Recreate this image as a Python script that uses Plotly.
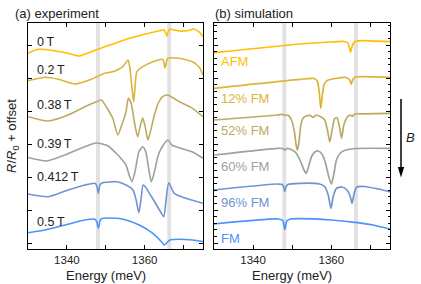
import plotly.graph_objects as go

W, H = 421, 284
FONT = "Liberation Sans, Arial, sans-serif"

# ---------------- panel (a): experiment ----------------
e_0T = [1330, 1332.6, 1334.5, 1336.9, 1340.3, 1343.3, 1346.3, 1349.7, 1352.3, 1356.1, 1360.3, 1363.8,
        1365.0, 1365.4, 1365.7, 1366.0, 1366.5, 1368.9, 1371.0, 1372.7, 1374.2, 1375]
y_0T = [189.7, 193.7, 193.5, 192.3, 189.7, 187, 191.3, 196.3, 199.5, 204.7, 209, 212.3,
        213, 210, 207, 211, 213.7, 212, 212.3, 214, 210.3, 206.3]

e_02T = [1330, 1334.4, 1337.8, 1342.1, 1346.3, 1349.7, 1351.8, 1354.4, 1355.7, 1356.2, 1356.6, 1357.0,
         1357.2, 1357.5, 1358.0, 1359.5, 1362.1, 1364.6, 1365.0, 1365.2, 1365.5, 1365.9, 1368.9, 1372.3, 1374.0, 1375]
y_02T = [162.3, 165.7, 163.7, 159, 163.7, 169.7, 171.3, 176.3, 183, 175, 160, 146,
         141.3, 155, 171.3, 176.3, 181.3, 183.7, 180, 174.7, 179, 184.7, 184.7, 181.3, 176, 168]

e_038T = [1330, 1335.2, 1340.3, 1344.6, 1347.6, 1348.9, 1350.3, 1351.8, 1353.1, 1354.2, 1355.2, 1355.8,
          1356.5, 1357.5, 1358.2, 1358.8, 1359.5, 1360.2, 1360.8, 1361.4, 1362.5, 1363.5, 1364.6, 1365.9,
          1368.9, 1372.3, 1375]
y_038T = [126.3, 122, 128, 136.3, 141.3, 143, 135, 124.7, 108, 119, 131.3, 144.7,
          140, 118, 106, 116, 125, 115, 103, 110, 128, 140, 146.3, 148,
          141.3, 134.7, 126.3]

e_039T = [1330, 1334.8, 1339.5, 1344.6, 1347.6, 1350.6, 1353.1, 1355.2, 1356.0, 1356.7, 1357.5, 1358.5,
          1359.5, 1360.3, 1361.0, 1361.7, 1362.5, 1363.5, 1364.8, 1366.0, 1367.0, 1369.0, 1372.3, 1375]
y_039T = [85.5, 82, 88, 96.3, 100, 97, 88, 78, 68, 61.3, 71, 91,
          96.3, 91, 75, 61.3, 71, 88, 98, 103, 98, 95, 91, 84.7]

e_0412T = [1330, 1335.2, 1340.3, 1344.6, 1347.2, 1347.7, 1348.1, 1348.5, 1349.0, 1352.8, 1355.2, 1357.0,
           1357.8, 1358.5, 1359.1, 1359.6, 1360.2, 1361.2, 1362.6, 1364.1, 1364.9, 1365.5, 1366.2, 1367.6,
           1370.6, 1375]
y_0412T = [49, 46.3, 53, 58, 59.7, 57, 49.7, 58, 60, 61.3, 58, 53,
           43, 30.3, 45, 58, 56, 49.7, 41, 31, 26.3, 43, 60.3, 49.7,
           44.7, 39.7]

e_05T = [1330, 1334.4, 1339.5, 1344.6, 1347.2, 1347.7, 1348.1, 1348.5, 1349.0, 1352.8, 1355.2, 1358.6,
         1362.1, 1364.6, 1365.0, 1366.5, 1368.9, 1372.3, 1375]
y_05T = [10.3, 13, 18, 23, 23.7, 21, 14.7, 22, 24.5, 24.7, 23, 18,
         9.7, 0, -2, 3, 3.7, 3, 1.5]

# ---------------- panel (b): simulation ----------------
e_AFM = [1330, 1352, 1360, 1363.3, 1364.2, 1364.6, 1364.9, 1365.2, 1365.6, 1366.3, 1368, 1375]
y_AFM = [190.3, 199, 201, 201.5, 200, 196, 190.7, 195, 199.5, 201.8, 202.3, 201.3]

e_12FM = [1330, 1352, 1355.5, 1356.4, 1356.9, 1357.3, 1357.7, 1358.2, 1359.0, 1361, 1363.8, 1364.7,
          1365.1, 1365.5, 1366.2, 1368, 1375]
y_12FM = [154.7, 163.7, 164.5, 162, 151, 134.7, 148, 159, 162.5, 164.5, 165.5, 163,
          158.7, 163.5, 166, 166.3, 165.7]

e_52FM = [1330, 1346.3, 1347.6, 1348.1, 1348.6, 1349.2, 1350.0, 1350.6, 1351.0, 1351.3, 1351.7, 1352.2,
          1352.8, 1353.6, 1354.6, 1355.3, 1356.0, 1357.2, 1358.3, 1359.0, 1359.6, 1360.2, 1360.8, 1361.4,
          1362.0, 1362.6, 1363.2, 1363.9, 1364.8, 1365.3, 1366.0, 1368, 1375]
y_52FM = [123, 128, 128.7, 127.5, 128, 127, 121, 110, 98, 93, 100, 118,
          125, 127, 127.5, 125.5, 127.7, 126.5, 123, 113, 101, 113, 124, 125.5,
          118, 104.7, 118, 125, 128, 126.5, 129, 129.2, 129.7]

e_60FM = [1330, 1346.3, 1347.6, 1348.1, 1348.6, 1350.0, 1351.0, 1352.2, 1353.0, 1353.6, 1354.3, 1355.0,
          1355.8, 1356.6, 1357.6, 1358.5, 1359.3, 1360.0, 1360.6, 1361.3, 1362.3, 1363.7, 1366.0, 1375]
y_60FM = [88, 94.7, 94.5, 93, 94.5, 93, 90, 81, 73, 69.7, 78, 87,
          91, 92, 89, 80, 67, 59, 68, 83, 90, 93, 94.5, 94.7]

e_96FM = [1330, 1346.3, 1347.5, 1347.9, 1348.1, 1348.4, 1348.9, 1352.0, 1357.0, 1358.3, 1359.2, 1359.9,
          1360.5, 1361.3, 1362.7, 1364.0, 1364.8, 1365.3, 1365.8, 1366.5, 1368.5, 1372, 1375]
y_96FM = [53, 59, 58.5, 55, 51.3, 56, 58.5, 59.7, 59, 56.5, 48, 34.7,
          47, 54.7, 56, 53, 47, 39.7, 49, 56, 56.5, 54, 51.3]

e_FM = [1330, 1346.3, 1347.6, 1348.1, 1348.6, 1349.5, 1352, 1360, 1366, 1370, 1375]
y_FM = [19, 24, 22.5, 13.5, 22, 24, 24.4, 23, 20.7, 18.5, 14]

colors = ["#FFBE00", "#DDB436", "#BDAA62", "#9AA598", "#6E95D2", "#4B92FA"]
exp_labels = ["0\u2009T", "0.2\u2009T", "0.38\u2009T", "0.39\u2009T", "0.412\u2009T", "0.5\u2009T"]
exp_label_y = [201.3, 173, 138, 98.7, 65.7, 21.3]
sim_labels = ["AFM", "12% FM", "52% FM", "60% FM", "96% FM", "FM"]
sim_label_y = [181.3, 144.7, 113, 76.3, 40.3, 4.7]
bands = [1348.0, 1366.3]

exp_e = [e_0T, e_02T, e_038T, e_039T, e_0412T, e_05T]
exp_y = [y_0T, y_02T, y_038T, y_039T, y_0412T, y_05T]
sim_e = [e_AFM, e_12FM, e_52FM, e_60FM, e_96FM, e_FM]
sim_y = [y_AFM, y_12FM, y_52FM, y_60FM, y_96FM, y_FM]

fig = go.Figure()
for e, y, c in zip(exp_e, exp_y, colors):
    fig.add_trace(go.Scatter(x=e, y=y, mode="lines", line=dict(color=c, width=1.6, shape="spline", smoothing=0.6),
                             xaxis="x", yaxis="y", showlegend=False, hoverinfo="skip"))
for e, y, c in zip(sim_e, sim_y, colors):
    fig.add_trace(go.Scatter(x=e, y=y, mode="lines", line=dict(color=c, width=1.7, shape="spline", smoothing=0.6),
                             xaxis="x2", yaxis="y2", showlegend=False, hoverinfo="skip"))

shapes = []
for xr, yr in (("x", "y domain"), ("x2", "y2 domain")):
    for b in bands:
        shapes.append(dict(type="rect", xref=xr, yref=yr, x0=b - 0.5, x1=b + 0.5, y0=0, y1=1,
                           fillcolor="#E2E2E2", line=dict(width=0), layer="below"))
# field arrow
shapes.append(dict(type="line", xref="paper", yref="paper", x0=401 / W, x1=401 / W,
                   y0=1 - 99 / H, y1=1 - 168 / H, line=dict(color="black", width=1.5)))
shapes.append(dict(type="path", xref="paper", yref="paper",
                   path=f"M {397.8 / W} {1 - 167 / H} L {404.2 / W} {1 - 167 / H} L {401 / W} {1 - 177.5 / H} Z",
                   fillcolor="black", line=dict(width=0)))

ann = []
for t, y in zip(exp_labels, exp_label_y):
    ann.append(dict(x=1331.8, y=y, xref="x", yref="y", text=t, showarrow=False, xanchor="left",
                    yanchor="middle", font=dict(size=12.5, color="#222222", family=FONT)))
for t, y, c in zip(sim_labels, sim_label_y, colors):
    ann.append(dict(x=1331.3, y=y, xref="x2", yref="y2", text=t, showarrow=False, xanchor="left",
                    yanchor="middle", font=dict(size=13, color=c, family=FONT)))
ann += [
    dict(x=13 / W, y=1 - 13.3 / H, xref="paper", yref="paper", text="(a) experiment", showarrow=False,
         xanchor="left", yanchor="middle", font=dict(size=13, color="#222222", family=FONT)),
    dict(x=213 / W, y=1 - 13.3 / H, xref="paper", yref="paper", text="(b) simulation", showarrow=False,
         xanchor="left", yanchor="middle", font=dict(size=13, color="#222222", family=FONT)),
    dict(x=1350, y=1 - 275 / H, xref="x", yref="paper", text="Energy (meV)", showarrow=False,
         xanchor="center", yanchor="middle", font=dict(size=13, color="#222222", family=FONT)),
    dict(x=1350, y=1 - 275 / H, xref="x2", yref="paper", text="Energy (meV)", showarrow=False,
         xanchor="center", yanchor="middle", font=dict(size=13, color="#222222", family=FONT)),
    dict(x=12 / W, y=1 - 136 / H, xref="paper", yref="paper",
         text="<i>R</i>/<i>R</i><sub>0</sub> + offset", showarrow=False, textangle=-90,
         xanchor="center", yanchor="middle", font=dict(size=13, color="#222222", family=FONT)),
    dict(x=410 / W, y=1 - 137 / H, xref="paper", yref="paper", text="<i>B</i>", showarrow=False,
         xanchor="center", yanchor="middle", font=dict(size=13, color="#222222", family=FONT)),
]

xcommon = dict(range=[1330, 1375], tick0=1340, dtick=20,
               ticks="inside", ticklen=4, tickcolor="black", showline=True, linecolor="black", linewidth=1,
               mirror="ticks", showgrid=False, zeroline=False,
               minor=dict(tick0=1340, dtick=10, ticks="inside", ticklen=4, tickcolor="black"),
               tickfont=dict(size=11.5, color="#222222", family=FONT))
ycommon = dict(range=[-6, 220], tick0=0, dtick=33, showticklabels=False, ticks="inside", ticklen=4,
               tickcolor="black", showline=True, linecolor="black", linewidth=1, mirror="ticks",
               showgrid=False, zeroline=False)

fig.update_layout(
    width=W, height=H, margin=dict(l=0, r=0, t=0, b=0),
    paper_bgcolor="white", plot_bgcolor="white",
    font=dict(family=FONT, color="#222222"),
    xaxis=dict(domain=[28 / W, 203 / W], anchor="y", **xcommon),
    xaxis2=dict(domain=[214 / W, 390 / W], anchor="y2", **xcommon),
    yaxis=dict(domain=[35 / H, 261 / H], anchor="x", **ycommon),
    yaxis2=dict(domain=[35 / H, 261 / H], anchor="x2",
                minor=dict(dtick=6.6, ticks="inside", ticklen=2.5, tickcolor="black"), **ycommon),
    shapes=shapes, annotations=ann,
)

fig.write_html("out.html", config={"displayModeBar": False},
               post_script="document.body.style.margin='0';")
